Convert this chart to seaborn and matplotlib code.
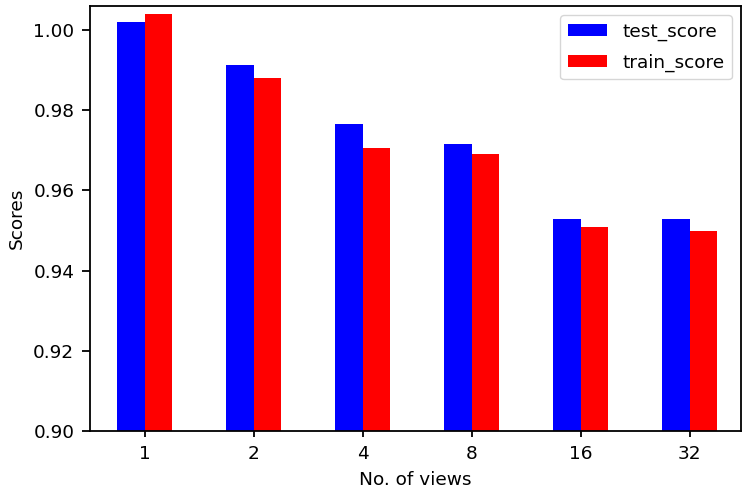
import matplotlib
matplotlib.use("Agg")
import matplotlib.pyplot as plt
import seaborn as sns
import pandas as pd

views = ["1", "2", "4", "8", "16", "32"]
test_score = [1.002, 0.9912, 0.9765, 0.9715, 0.9530, 0.9530]
train_score = [1.004, 0.9880, 0.9705, 0.9690, 0.9510, 0.9500]

df = pd.DataFrame({
    "views": views * 2,
    "score": test_score + train_score,
    "kind": ["test_score"] * len(views) + ["train_score"] * len(views),
})

plt.rcParams["font.size"] = 13.3
plt.rcParams["font.family"] = ["DejaVu Sans"]
plt.rcParams["axes.linewidth"] = 1.3
plt.rcParams["xtick.major.width"] = 1.3
plt.rcParams["ytick.major.width"] = 1.3

fig = plt.figure(figsize=(7.43, 4.87), dpi=100)
ax = fig.add_axes([90 / 743, 56 / 487, 651 / 743, 425 / 487])
sns.barplot(data=df, x="views", y="score", hue="kind", order=views,
            palette={"test_score": "blue", "train_score": "red"},
            width=0.5, saturation=1, ax=ax)
ax.set_ylim(0.90, 1.006)
ax.set_xlim(-0.5, 5.47)
ax.set_yticks([0.90, 0.92, 0.94, 0.96, 0.98, 1.00])
ax.set_yticklabels(["0.90", "0.92", "0.94", "0.96", "0.98", "1.00"])
ax.tick_params(axis="x", length=4.4, pad=5.5)
ax.tick_params(axis="y", length=5.5, pad=5.8)
ax.set_xlabel("No. of views", labelpad=6)
ax.set_ylabel("Scores", labelpad=5)
ax.legend(loc="upper right", title=None, handlelength=2.15, handleheight=0.65,
          labelspacing=0.7, borderaxespad=0.5)
fig.savefig("out.png", dpi=100)
